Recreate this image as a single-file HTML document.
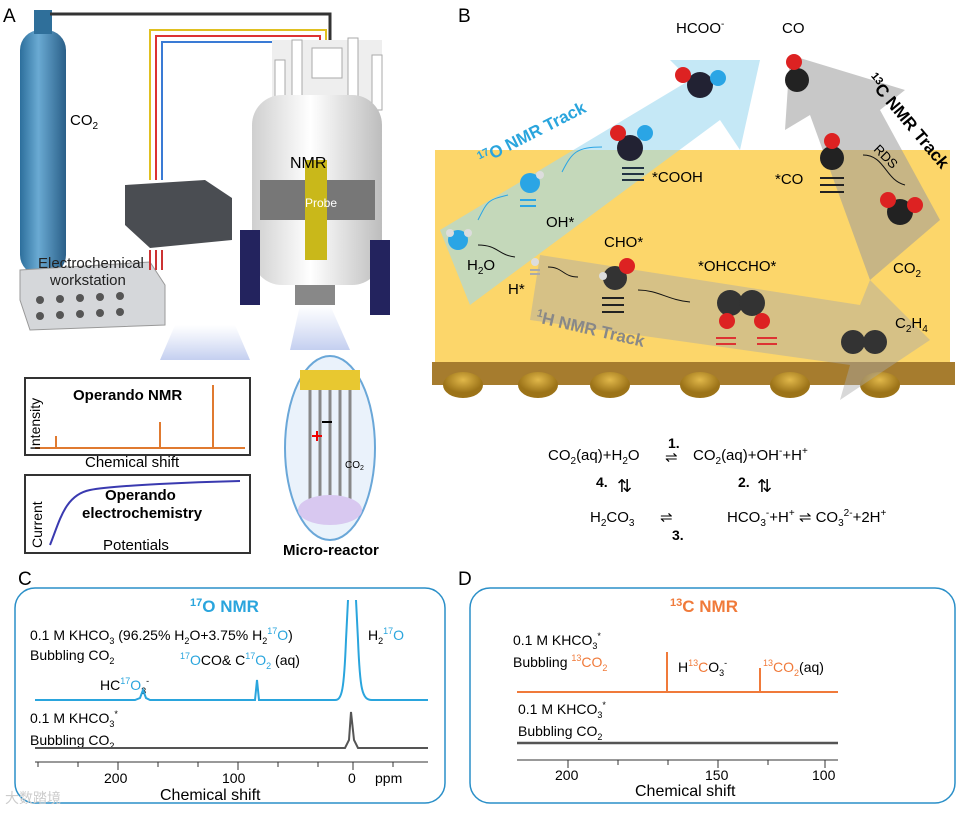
<!DOCTYPE html>
<html><head><style>
html,body{margin:0;padding:0;background:#fff;}
svg{display:block;font-family:"Liberation Sans",Arial,sans-serif;}
</style></head><body>
<svg width="970" height="813" viewBox="0 0 970 813" xmlns="http://www.w3.org/2000/svg">
<defs>
<linearGradient id="cyl" x1="0" x2="1"><stop offset="0" stop-color="#2d6f9c"/><stop offset=".4" stop-color="#6aaad3"/><stop offset="1" stop-color="#2a5f88"/></linearGradient>
<linearGradient id="mag" x1="0" x2="1"><stop offset="0" stop-color="#cfcfcf"/><stop offset=".45" stop-color="#ffffff"/><stop offset="1" stop-color="#bdbdbd"/></linearGradient>
<linearGradient id="beam" x1="0" y1="0" x2="0" y2="1"><stop offset="0" stop-color="#ccd6f2" stop-opacity="0"/><stop offset="1" stop-color="#c4cff0"/></linearGradient>
<radialGradient id="gold" cx=".5" cy=".3"><stop offset="0" stop-color="#e1b84a"/><stop offset="1" stop-color="#9c7318"/></radialGradient>
</defs>
<rect width="970" height="813" fill="#fff"/>
<!-- Panel A -->
<text x="3" y="22" font-size="19">A</text>
<rect x="20" y="30" width="46" height="245" rx="20" fill="url(#cyl)"/>
<rect x="34" y="10" width="18" height="24" fill="#2f6f9a"/>
<path d="M50 14 H330 V40" fill="none" stroke="#333" stroke-width="3"/>
<text x="70" y="125" font-size="15">CO<tspan font-size="10" dy="4">2</tspan></text>
<path d="M150 180 V30 H326 V50" fill="none" stroke="#e0c020" stroke-width="2"/>
<path d="M156 180 V36 H320 V50" fill="none" stroke="#d33" stroke-width="2"/>
<path d="M162 180 V42 H314 V50" fill="none" stroke="#3a7bd5" stroke-width="2"/>
<polygon points="125,185 205,180 232,198 232,240 150,248 125,225" fill="#4a4d52"/>
<polygon points="20,270 150,262 165,285 165,325 30,330 20,300" fill="#d5d7da" stroke="#999"/>
<text x="38" y="268" font-size="15" fill="#222">Electrochemical</text>
<text x="50" y="285" font-size="15" fill="#222">workstation</text>
<g fill="#555"><circle cx="40" cy="300" r="4"/><circle cx="60" cy="299" r="4"/><circle cx="80" cy="298" r="4"/><circle cx="100" cy="297" r="4"/><circle cx="120" cy="296" r="4"/><circle cx="40" cy="316" r="4"/><circle cx="60" cy="315" r="4"/><circle cx="80" cy="314" r="4"/><circle cx="100" cy="313" r="4"/><circle cx="120" cy="312" r="4"/></g>
<path d="M150 250 V270 M156 250 V270 M162 250 V270" stroke="#c33" stroke-width="2"/>
<polygon points="175,325 235,325 250,360 160,360" fill="url(#beam)"/>
<polygon points="300,305 330,305 350,350 290,350" fill="url(#beam)"/>
<rect x="272" y="40" width="110" height="70" fill="#eee"/>
<g fill="#fff" stroke="#aaa"><rect x="275" y="60" width="10" height="50"/><rect x="292" y="40" width="10" height="70"/><rect x="348" y="38" width="10" height="70"/><rect x="372" y="55" width="10" height="55"/><rect x="312" y="48" width="30" height="30"/></g>
<rect x="252" y="95" width="130" height="190" rx="30" fill="url(#mag)"/>
<rect x="260" y="180" width="115" height="40" fill="#777"/>
<rect x="305" y="160" width="22" height="100" fill="#c9b81a"/>
<text x="305" y="207" font-size="12" fill="#fff">Probe</text>
<text x="290" y="168" font-size="16">NMR</text>
<path d="M240 230 h20 v75 h-20z M370 240 h20 v75 h-20z" fill="#23235e"/>
<rect x="295" y="285" width="40" height="20" fill="#888"/>
<rect x="25" y="378" width="225" height="77" fill="#fff" stroke="#333" stroke-width="2"/>
<path d="M35 448 H245" stroke="#e07a30" stroke-width="2"/>
<path d="M56 448 V436 M160 448 V422 M213 448 V385" stroke="#e07a30" stroke-width="2"/>
<text x="73" y="400" font-size="15" font-weight="bold">Operando NMR</text>
<text x="85" y="467" font-size="15">Chemical shift</text>
<text transform="translate(40 450) rotate(-90)" font-size="14">Intensity</text>
<rect x="25" y="475" width="225" height="78" fill="#fff" stroke="#333" stroke-width="2"/>
<path d="M50 545 C60 520 65 495 90 490 S200 482 240 481" fill="none" stroke="#3a3ab0" stroke-width="2"/>
<text x="105" y="500" font-size="15" font-weight="bold">Operando</text>
<text x="82" y="518" font-size="15" font-weight="bold">electrochemistry</text>
<text x="103" y="550" font-size="15">Potentials</text>
<text transform="translate(42 548) rotate(-90)" font-size="14">Current</text>
<ellipse cx="330" cy="448" rx="45" ry="92" fill="#eaf2fb" stroke="#6aa7d8" stroke-width="2"/>
<rect x="300" y="370" width="60" height="20" fill="#e8c830"/>
<g stroke="#888" stroke-width="3"><path d="M310 390 V500 M320 390 V505 M330 390 V505 M340 390 V505 M350 390 V500"/></g>
<ellipse cx="330" cy="510" rx="32" ry="15" fill="#d8c8f0"/>
<path d="M312 436 h10 M317 431 v10" stroke="#e00" stroke-width="2"/>
<path d="M322 422 h10" stroke="#000" stroke-width="2"/>
<text x="345" y="468" font-size="10">CO<tspan font-size="7" dy="2">2</tspan></text>
<text x="283" y="555" font-size="15" font-weight="bold">Micro-reactor</text>
<!-- Panel B -->
<text x="458" y="22" font-size="19">B</text>
<polygon points="435,150 950,150 950,362 435,362" fill="#fcd66a"/>
<polygon points="432,362 955,362 955,385 432,385" fill="#a67c2e"/>
<g fill="url(#gold)"><ellipse cx="463" cy="385" rx="20" ry="13"/><ellipse cx="538" cy="385" rx="20" ry="13"/><ellipse cx="610" cy="385" rx="20" ry="13"/><ellipse cx="700" cy="385" rx="20" ry="13"/><ellipse cx="790" cy="385" rx="20" ry="13"/><ellipse cx="880" cy="385" rx="20" ry="13"/></g>
<polygon points="440,230 690,80 670,60 760,60 740,150 720,120 470,305" fill="#9fd8f0" opacity=".6"/>
<polygon points="540,255 860,305 870,280 930,340 840,400 850,365 530,320" fill="#a8a8a8" opacity=".45"/>
<polygon points="940,220 880,110 905,90 790,55 785,130 810,115 870,280" fill="#9a9a9a" opacity=".55"/>
<text transform="translate(482 165) rotate(-27)" font-size="17" font-weight="bold" fill="#2aa5dd"><tspan font-size="11" dy="-6">17</tspan><tspan dy="6">O NMR Track</tspan></text>
<text transform="translate(535 322) rotate(13)" font-size="17" font-weight="bold" fill="#888"><tspan font-size="11" dy="-6">1</tspan><tspan dy="6">H NMR Track</tspan></text>
<text transform="translate(866 80) rotate(50)" font-size="17" font-weight="bold"><tspan font-size="11" dy="-6">13</tspan><tspan dy="6">C NMR Track</tspan></text>
<g font-size="15">
<text x="676" y="33">HCOO<tspan font-size="10" dy="-6">-</tspan></text>
<text x="782" y="33">CO</text>
<text x="652" y="182">*COOH</text>
<text x="775" y="184">*CO</text>
<text x="546" y="227">OH*</text>
<text x="604" y="247">CHO*</text>
<text x="698" y="271">*OHCCHO*</text>
<text x="467" y="270">H<tspan font-size="10" dy="4">2</tspan><tspan dy="-4">O</tspan></text>
<text x="508" y="294">H*</text>
<text x="893" y="273">CO<tspan font-size="10" dy="4">2</tspan></text>
<text x="895" y="328">C<tspan font-size="10" dy="4">2</tspan><tspan dy="-4">H</tspan><tspan font-size="10" dy="4">4</tspan></text>
<text transform="translate(873 150) rotate(45)" font-size="13">RDS</text>
</g>
<g>
<circle cx="458" cy="240" r="10" fill="#2aa5e5"/><circle cx="450" cy="233" r="4" fill="#ddd"/><circle cx="468" cy="233" r="4" fill="#ddd"/>
<circle cx="530" cy="183" r="10" fill="#2aa5e5"/><circle cx="540" cy="175" r="4" fill="#ddd"/>
<path d="M520 200h16 M520 206h16" stroke="#2aa5e5" stroke-width="2"/>
<circle cx="535" cy="262" r="4" fill="#ddd"/><path d="M530 270h10 M530 274h10" stroke="#aaa" stroke-width="2"/>
<circle cx="630" cy="148" r="13" fill="#223"/><circle cx="618" cy="133" r="8" fill="#d22"/><circle cx="645" cy="133" r="8" fill="#2aa5e5"/>
<path d="M622 168h22 M622 174h22 M622 180h22" stroke="#234" stroke-width="2"/>
<circle cx="700" cy="85" r="13" fill="#223"/><circle cx="683" cy="75" r="8" fill="#d22"/><circle cx="718" cy="78" r="8" fill="#2aa5e5"/>
<circle cx="797" cy="80" r="12" fill="#222"/><circle cx="794" cy="62" r="8" fill="#d22"/>
<circle cx="832" cy="158" r="12" fill="#222"/><circle cx="832" cy="141" r="8" fill="#d22"/>
<path d="M820 178h24 M820 185h24 M820 192h24" stroke="#222" stroke-width="2"/>
<circle cx="900" cy="212" r="13" fill="#222"/><circle cx="888" cy="200" r="8" fill="#d22"/><circle cx="915" cy="205" r="8" fill="#d22"/>
<circle cx="615" cy="278" r="12" fill="#333"/><circle cx="627" cy="266" r="8" fill="#d22"/><circle cx="603" cy="276" r="4" fill="#ddd"/>
<path d="M602 298h22 M602 305h22 M602 312h22" stroke="#222" stroke-width="2"/>
<circle cx="730" cy="303" r="13" fill="#333"/><circle cx="752" cy="303" r="13" fill="#333"/><circle cx="727" cy="321" r="8" fill="#d22"/><circle cx="762" cy="321" r="8" fill="#d22"/>
<path d="M716 338h20 M716 344h20 M757 338h20 M757 344h20" stroke="#d33" stroke-width="2"/>
<circle cx="853" cy="342" r="12" fill="#333"/><circle cx="875" cy="342" r="12" fill="#333"/>
</g>
<g fill="none" stroke="#111" stroke-width="1"><path d="M478 245 c20 0 20 10 37 12"/><path d="M548 267 c15 0 15 10 30 10"/><path d="M638 290 c20 0 30 10 52 12"/><path d="M905 185 c-20 -5 -20 -30 -42 -30"/></g>
<g fill="none" stroke="#2aa5e5" stroke-width="1"><path d="M478 220 c10 -20 10 -20 30 -25"/><path d="M562 172 c10 -20 15 -25 40 -25"/></g>
<!-- equations -->
<g font-size="15">
<text x="548" y="460">CO<tspan font-size="10" dy="4">2</tspan><tspan dy="-4">(aq)+H</tspan><tspan font-size="10" dy="4">2</tspan><tspan dy="-4">O</tspan></text>
<text x="668" y="448" font-size="14" font-weight="bold">1.</text>
<text x="665" y="462">⇌</text>
<text x="693" y="460">CO<tspan font-size="10" dy="4">2</tspan><tspan dy="-4">(aq)+OH</tspan><tspan font-size="10" dy="-6">-</tspan><tspan dy="6">+H</tspan><tspan font-size="10" dy="-6">+</tspan></text>
<text x="596" y="487" font-size="14" font-weight="bold">4.</text>
<text x="617" y="492" font-size="18">⇅</text>
<text x="738" y="487" font-size="14" font-weight="bold">2.</text>
<text x="757" y="492" font-size="18">⇅</text>
<text x="590" y="522">H<tspan font-size="10" dy="4">2</tspan><tspan dy="-4">CO</tspan><tspan font-size="10" dy="4">3</tspan></text>
<text x="660" y="522">⇌</text>
<text x="672" y="540" font-size="14" font-weight="bold">3.</text>
<text x="727" y="522">HCO<tspan font-size="10" dy="4">3</tspan><tspan font-size="10" dy="-10">-</tspan><tspan dy="6">+H</tspan><tspan font-size="10" dy="-6">+</tspan><tspan dy="6"> ⇌ CO</tspan><tspan font-size="10" dy="4">3</tspan><tspan font-size="10" dy="-10">2-</tspan><tspan dy="6">+2H</tspan><tspan font-size="10" dy="-6">+</tspan></text>
</g>
<!-- Panel C -->
<text x="18" y="585" font-size="19">C</text>
<rect x="15" y="588" width="430" height="215" rx="20" fill="#fff" stroke="#2a8fc8" stroke-width="1.5"/>
<text x="190" y="612" font-size="17" font-weight="bold" fill="#2aa5dd"><tspan font-size="11" dy="-6">17</tspan><tspan dy="6">O NMR</tspan></text>
<g font-size="14">
<text x="30" y="640">0.1 M KHCO<tspan font-size="9" dy="4">3</tspan><tspan dy="-4"> (96.25% H</tspan><tspan font-size="9" dy="4">2</tspan><tspan dy="-4">O+3.75% H</tspan><tspan font-size="9" dy="4">2</tspan><tspan font-size="9" dy="-10" fill="#2aa5dd">17</tspan><tspan dy="6" fill="#2aa5dd">O</tspan><tspan dy="0">)</tspan></text>
<text x="30" y="660">Bubbling CO<tspan font-size="9" dy="4">2</tspan></text>
<text x="368" y="640">H<tspan font-size="9" dy="4">2</tspan><tspan font-size="9" dy="-10" fill="#2aa5dd">17</tspan><tspan dy="6" fill="#2aa5dd">O</tspan></text>
<text x="180" y="665"><tspan font-size="9" dy="-6" fill="#2aa5dd">17</tspan><tspan dy="6" fill="#2aa5dd">O</tspan>CO&amp; C<tspan font-size="9" dy="-6" fill="#2aa5dd">17</tspan><tspan dy="6" fill="#2aa5dd">O</tspan><tspan font-size="9" dy="4" fill="#2aa5dd">2</tspan><tspan dy="-4"> (aq)</tspan></text>
<text x="100" y="690">HC<tspan font-size="9" dy="-6" fill="#2aa5dd">17</tspan><tspan dy="6" fill="#2aa5dd">O</tspan><tspan font-size="9" dy="4">3</tspan><tspan font-size="9" dy="-10">-</tspan></text>
<text x="30" y="723">0.1 M KHCO<tspan font-size="9" dy="4">3</tspan><tspan font-size="9" dy="-10">*</tspan></text>
<text x="30" y="745">Bubbling CO<tspan font-size="9" dy="4">2</tspan></text>
</g>
<path d="M35 700 H135 L140 698 L143 690 L146 698 L150 700 H255 L257 680 L259 700 H335 C342 700 344 690 346 640 L348 600 M356 600 L358 640 C360 690 362 700 372 700 H428" fill="none" stroke="#2aa5dd" stroke-width="2"/>
<path d="M35 748 H345 L349 740 L351 712 L354 740 L358 748 H428" fill="none" stroke="#555" stroke-width="2"/>
<path d="M35 762 H428" stroke="#333"/>
<g stroke="#333"><path d="M38 762v5 M78 762v5 M118 762v8 M158 762v5 M198 762v5 M238 762v8 M278 762v5 M318 762v5 M353 762v8 M393 762v5"/></g>
<g font-size="14"><text x="104" y="783">200</text><text x="222" y="783">100</text><text x="348" y="783">0</text><text x="375" y="783">ppm</text></g>
<text x="160" y="800" font-size="16">Chemical shift</text>
<!-- Panel D -->
<text x="458" y="585" font-size="19">D</text>
<rect x="470" y="588" width="485" height="215" rx="20" fill="#fff" stroke="#2a8fc8" stroke-width="1.5"/>
<text x="670" y="612" font-size="17" font-weight="bold" fill="#f07a3a"><tspan font-size="11" dy="-6">13</tspan><tspan dy="6">C NMR</tspan></text>
<g font-size="14">
<text x="513" y="645">0.1 M KHCO<tspan font-size="9" dy="4">3</tspan><tspan font-size="9" dy="-10">*</tspan></text>
<text x="513" y="667">Bubbling <tspan font-size="9" dy="-6" fill="#f07a3a">13</tspan><tspan dy="6" fill="#f07a3a">CO</tspan><tspan font-size="9" dy="4" fill="#f07a3a">2</tspan></text>
<text x="678" y="672">H<tspan font-size="9" dy="-6" fill="#f07a3a">13</tspan><tspan dy="6" fill="#f07a3a">C</tspan>O<tspan font-size="9" dy="4">3</tspan><tspan font-size="9" dy="-10">-</tspan></text>
<text x="763" y="672"><tspan font-size="9" dy="-6" fill="#f07a3a">13</tspan><tspan dy="6" fill="#f07a3a">CO</tspan><tspan font-size="9" dy="4" fill="#f07a3a">2</tspan><tspan dy="-4">(aq)</tspan></text>
<text x="518" y="714">0.1 M KHCO<tspan font-size="9" dy="4">3</tspan><tspan font-size="9" dy="-10">*</tspan></text>
<text x="518" y="736">Bubbling CO<tspan font-size="9" dy="4">2</tspan></text>
</g>
<path d="M517 692 H667 V652 V692 H760 V668 V692 H838" fill="none" stroke="#f07a3a" stroke-width="2"/>
<path d="M517 743 H838" stroke="#555" stroke-width="2.5"/>
<path d="M517 760 H838" stroke="#333"/>
<g stroke="#333"><path d="M568 760v8 M618 760v5 M668 760v5 M718 760v8 M768 760v5 M825 760v8"/></g>
<g font-size="14"><text x="555" y="780">200</text><text x="705" y="780">150</text><text x="812" y="780">100</text></g>
<text x="635" y="796" font-size="16">Chemical shift</text>
<text x="5" y="803" font-size="14" fill="#ccc">大数踏境</text>
</svg>
</body></html>
